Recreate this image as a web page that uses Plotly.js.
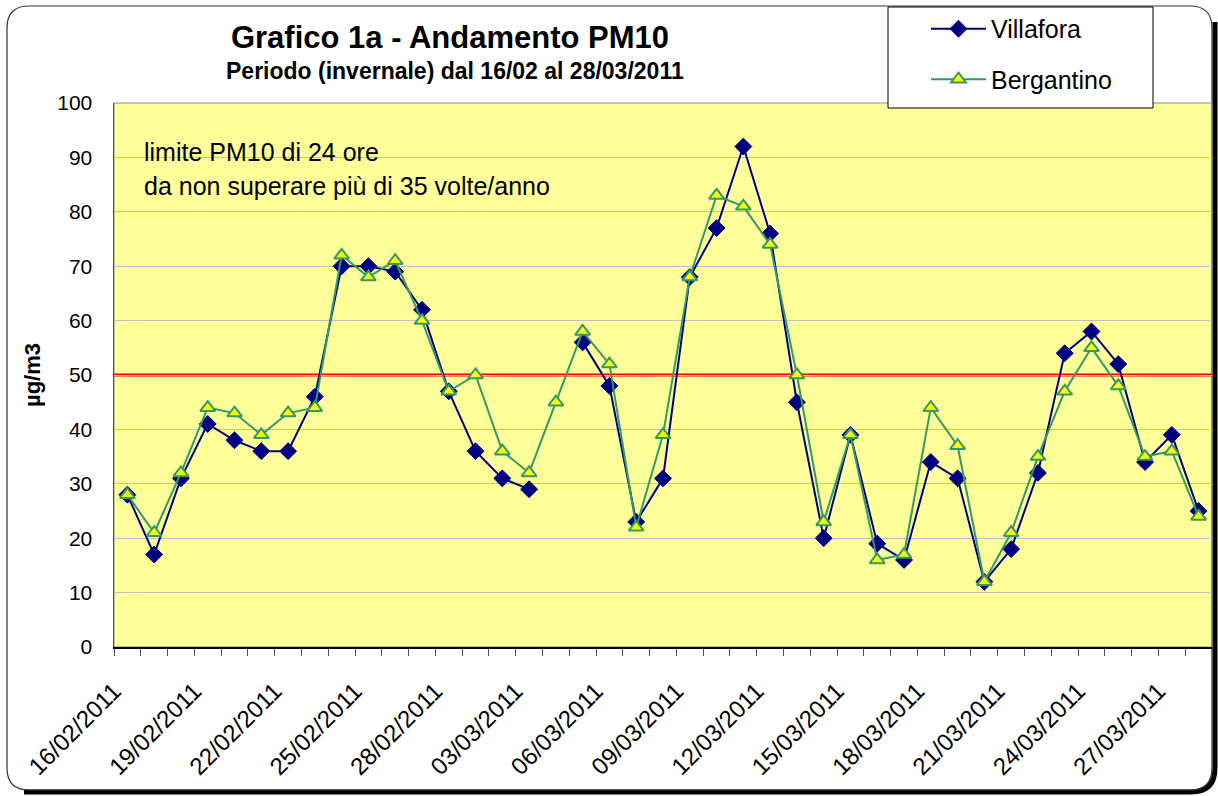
<!DOCTYPE html>
<html>
<head>
<meta charset="utf-8">
<script src="https://cdn.plot.ly/plotly-3.0.1.min.js"></script>
<style>
html, body { margin: 0; padding: 0; background: #ffffff; }
#chart { width: 1218px; height: 796px; }
</style>
</head>
<body>
<div id="chart"></div>
<script>
// ---- data ----
var dates = [
  "16/02/2011","17/02/2011","18/02/2011","19/02/2011","20/02/2011","21/02/2011","22/02/2011",
  "23/02/2011","24/02/2011","25/02/2011","26/02/2011","27/02/2011","28/02/2011","01/03/2011",
  "02/03/2011","03/03/2011","04/03/2011","05/03/2011","06/03/2011","07/03/2011","08/03/2011",
  "09/03/2011","10/03/2011","11/03/2011","12/03/2011","13/03/2011","14/03/2011","15/03/2011",
  "16/03/2011","17/03/2011","18/03/2011","19/03/2011","20/03/2011","21/03/2011","22/03/2011",
  "23/03/2011","24/03/2011","25/03/2011","26/03/2011","27/03/2011","28/03/2011"
];
var villafora = [28,17,31,41,38,36,36,46,70,70,69,62,47,36,31,29,null,56,48,23,31,68,77,92,76,45,20,39,19,16,34,31,12,18,32,54,58,52,34,39,25];
var bergantino = [28,21,32,44,43,39,43,44,72,68,71,60,47,50,36,32,45,58,52,22,39,68,83,81,74,50,23,39,16,17,44,37,12,21,35,47,55,48,35,36,24];
var limitValue = 50;
var labelStep = 3;
var yTicks = [0,10,20,30,40,50,60,70,80,90,100];

// ---- derived ----
var xIdx = dates.map(function(d, i){ return i; });
var tickVals = [], tickText = [];
for (var i = 0; i < dates.length; i += labelStep) { tickVals.push(i - 0.5); tickText.push(dates[i]); }

// layout geometry helpers (pixel -> paper)
var W = 1218, H = 796, ML = 114, MR = 6, MT = 103, MB = 149;
var PW = W - ML - MR, PH = H - MT - MB;
function px(x){ return ((x - ML) / PW).toFixed(5); }
function py(y){ return ((H - MB - y) / PH).toFixed(5); }
function roundRect(x0, y0, x1, y1, r){
  return 'M' + px(x0 + r) + ',' + py(y0) +
    ' L' + px(x1 - r) + ',' + py(y0) +
    ' Q' + px(x1) + ',' + py(y0) + ' ' + px(x1) + ',' + py(y0 + r) +
    ' L' + px(x1) + ',' + py(y1 - r) +
    ' Q' + px(x1) + ',' + py(y1) + ' ' + px(x1 - r) + ',' + py(y1) +
    ' L' + px(x0 + r) + ',' + py(y1) +
    ' Q' + px(x0) + ',' + py(y1) + ' ' + px(x0) + ',' + py(y1 - r) +
    ' L' + px(x0) + ',' + py(y0 + r) +
    ' Q' + px(x0) + ',' + py(y0) + ' ' + px(x0 + r) + ',' + py(y0) + ' Z';
}
function shadowPath(){
  var x = 1215, y = 792, r = 24;
  return 'M' + px(x) + ',' + py(22) +
    ' L' + px(x) + ',' + py(y - r) +
    ' Q' + px(x) + ',' + py(y) + ' ' + px(x - r) + ',' + py(y) +
    ' L' + px(24) + ',' + py(y);
}

var FONT = '"Liberation Sans", Arial, sans-serif';

var traces = [
  {
    x: xIdx, y: villafora, name: 'Villafora', type: 'scatter', mode: 'lines+markers',
    connectgaps: false, legendgroup: 'v',
    line: { color: '#000080', width: 2 },
    marker: { symbol: 'diamond', size: 13, color: '#000080', line: { color: '#000080', width: 1 } }
  },
  {
    x: xIdx, y: bergantino, name: 'Bergantino', type: 'scatter', mode: 'lines+markers',
    legendgroup: 'b',
    line: { color: '#339966', width: 2 },
    marker: { symbol: 'triangle-up', size: 13, color: '#FFFF00', line: { color: '#339966', width: 2 } }
  }
];

var layout = {
  width: W, height: H,
  margin: { l: ML, r: MR, t: MT, b: MB, pad: 0 },
  paper_bgcolor: '#ffffff',
  plot_bgcolor: '#FFFF99',
  font: { family: FONT, color: '#000000' },
  showlegend: true,
  title: {
    text: 'Grafico 1a - Andamento PM10',
    font: { family: FONT, size: 31, weight: 'bold', color: '#000' },
    xref: 'container', yref: 'container', x: 450 / W, xanchor: 'center', y: 1 - 37 / H, yanchor: 'middle'
  },
  xaxis: {
    range: [-0.5, dates.length - 0.5],
    tickmode: 'array', tickvals: tickVals, ticktext: tickText,
    tickangle: -45, tickfont: { family: FONT, size: 24, color: '#000' },
    ticks: 'outside', ticklen: 7, tickcolor: '#555555', tickwidth: 1,
    ticklabelstandoff: 12,
    minor: { tickmode: 'linear', tick0: -0.5, dtick: 1, ticks: 'outside', ticklen: 7, tickcolor: '#555555', tickwidth: 1, showgrid: false },
    showgrid: false, zeroline: false,
    showline: true, linecolor: '#000000', linewidth: 1.5
  },
  yaxis: {
    range: [0, 100], tickmode: 'array', tickvals: yTicks,
    tickfont: { family: FONT, size: 21, color: '#000' },
    ticks: '', ticklabelstandoff: 16,
    showgrid: true, gridcolor: '#C0C0C0', gridwidth: 1,
    zeroline: false, showline: true, linecolor: '#4d4d33', linewidth: 1.5,
    title: { text: 'µg/m3', font: { family: FONT, size: 22, weight: 'bold', color: '#000' }, standoff: 10 }
  },
  legend: {
    x: px(926), xanchor: 'left', y: py(6), yanchor: 'top',
    bgcolor: 'rgba(0,0,0,0)', borderwidth: 0,
    font: { family: FONT, size: 25, color: '#000' },
    itemwidth: 55, tracegroupgap: 15, traceorder: 'grouped'
  },
  annotations: [
    { xref: 'paper', yref: 'paper', x: px(455), y: py(71), xanchor: 'center', yanchor: 'middle',
      text: '<b>Periodo (invernale) dal 16/02 al 28/03/2011</b>', showarrow: false,
      font: { family: FONT, size: 23, color: '#000' } },
    { xref: 'paper', yref: 'paper', x: px(142), y: py(152), xanchor: 'left', yanchor: 'middle',
      text: 'limite PM10 di 24 ore', showarrow: false, font: { family: FONT, size: 25, color: '#000' } },
    { xref: 'paper', yref: 'paper', x: px(142), y: py(186), xanchor: 'left', yanchor: 'middle',
      text: 'da non superare più di 35 volte/anno', showarrow: false, font: { family: FONT, size: 25, color: '#000' } }
  ],
  shapes: [
    { type: 'path', xref: 'paper', yref: 'paper', path: shadowPath(), line: { color: '#000000', width: 5 }, layer: 'below' },
    { type: 'path', xref: 'paper', yref: 'paper', path: roundRect(7, 6, 1212, 790, 22), line: { color: '#333333', width: 1.2 }, layer: 'below' },
    { type: 'rect', xref: 'paper', yref: 'paper', x0: 0, x1: 1, y0: 0, y1: 1, line: { color: '#8c8c8c', width: 1 }, layer: 'below' },
    { type: 'line', xref: 'paper', yref: 'y', x0: 0, x1: 1, y0: limitValue, y1: limitValue, line: { color: '#FF0000', width: 3 }, layer: 'between' },
    { type: 'rect', xref: 'paper', yref: 'paper', x0: px(888), x1: px(1153), y0: py(108), y1: py(7), fillcolor: '#ffffff', line: { color: '#000000', width: 1 }, layer: 'above' }
  ]
};

Plotly.newPlot('chart', traces, layout, { displayModeBar: false, staticPlot: true });
</script>
</body>
</html>
